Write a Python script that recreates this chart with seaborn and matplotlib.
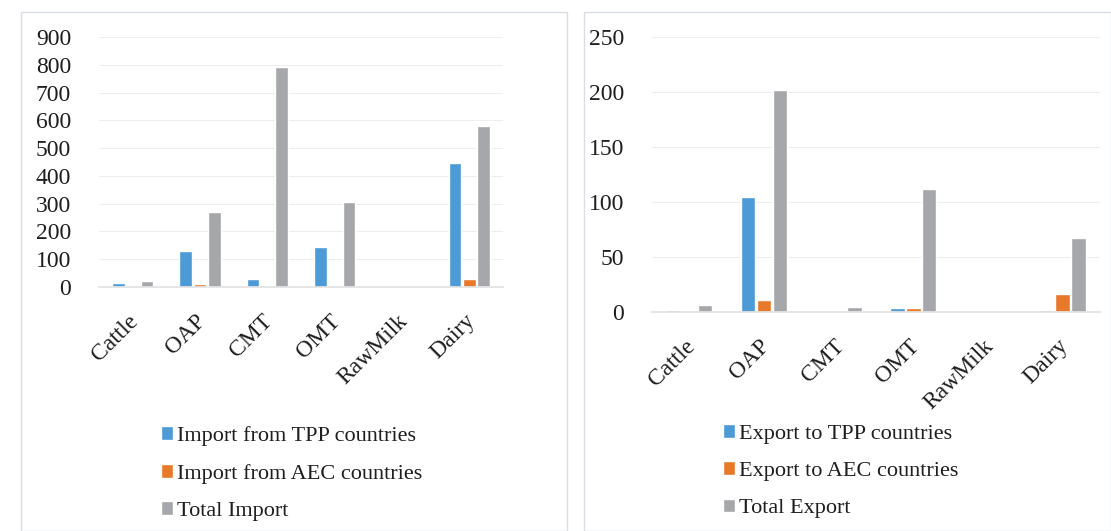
import pandas as pd
import matplotlib.pyplot as plt
import seaborn as sns
from matplotlib.patches import Rectangle
from matplotlib.transforms import ScaledTranslation

categories = ["Cattle", "OAP", "CMT", "OMT", "RawMilk", "Dairy"]

import_tpp = [15, 128, 28, 144, 0, 448]
import_aec = [0, 10, 0, 5, 0, 28]
import_total = [20, 270, 792, 306, 0, 580]

export_tpp = [1.5, 105, 0, 4, 0, 2]
export_aec = [0, 11, 0, 4, 0, 16]
export_total = [6, 202, 5, 111.5, 0, 67]

import_labels = ["Import from TPP countries", "Import from AEC countries", "Total Import"]
export_labels = ["Export to TPP countries", "Export to AEC countries", "Total Export"]

colors = ["#4C9AD6", "#E8782A", "#A6A7AA"]


def long_df(series, labels):
    rows = []
    for vals, lab in zip(series, labels):
        for c, v in zip(categories, vals):
            rows.append({"cat": c, "series": lab, "value": v})
    return pd.DataFrame(rows)


sns.set_theme(style="white")
plt.rcParams["font.family"] = ["Liberation Serif", "DejaVu Serif"]

fig = plt.figure(figsize=(11.11, 5.31), dpi=100)
W, H = 1111, 531

# panel frames
for x0, x1 in [(21, 567), (584, 1111)]:
    fig.patches.append(Rectangle((x0 / W, 0), (x1 - x0) / W, (H - 12) / H,
                                 transform=fig.transFigure, fill=False,
                                 edgecolor="#DADDE3", linewidth=1.0))

panels = [
    (long_df([import_tpp, import_aec, import_total], import_labels), import_labels,
     (99, 503, 37, 287), 900, 100, (150, 415)),
    (long_df([export_tpp, export_aec, export_total], export_labels), export_labels,
     (652, 1100, 37, 312), 250, 50, (712, 413)),
]

shift = ScaledTranslation(-5 / 100, -4 / 100, fig.dpi_scale_trans)

for df, labels, (xl, xr, yt, yb), ymax, step, (lx, ly) in panels:
    ax = fig.add_axes([xl / W, 1 - yb / H, (xr - xl) / W, (yb - yt) / H])
    sns.barplot(data=df, x="cat", y="value", hue="series", hue_order=labels,
                palette=colors, width=0.64, gap=0.1, saturation=1, ax=ax)
    ax.set_ylim(0, ymax)
    ax.set_yticks(range(0, ymax + 1, step))
    ax.yaxis.grid(True, color="#EEEEEE", linewidth=0.8)
    ax.set_axisbelow(True)
    for s in ["top", "right", "left"]:
        ax.spines[s].set_visible(False)
    ax.spines["bottom"].set_color("#E3E3E3")
    ax.set_xlabel("")
    ax.set_ylabel("")
    ax.tick_params(axis="y", length=0, pad=20, labelsize=17, labelcolor="#1E1E1E")
    ax.tick_params(axis="x", length=0, pad=14, labelsize=17, labelcolor="#1E1E1E")
    for t in ax.get_xticklabels():
        t.set_rotation(45)
        t.set_ha("right")
        t.set_rotation_mode("anchor")
        t.set_transform(t.get_transform() + shift)
    handles, labs = ax.get_legend_handles_labels()
    ax.legend(handles, labs, loc="upper left", bbox_to_anchor=(lx / W, 1 - ly / H),
              bbox_transform=fig.transFigure, frameon=False, fontsize=16,
              handlelength=0.55, handleheight=0.55, handletextpad=0.15,
              labelspacing=0.8, borderpad=0, labelcolor="#1E1E1E")

fig.savefig("out.png", dpi=100, facecolor="white")
